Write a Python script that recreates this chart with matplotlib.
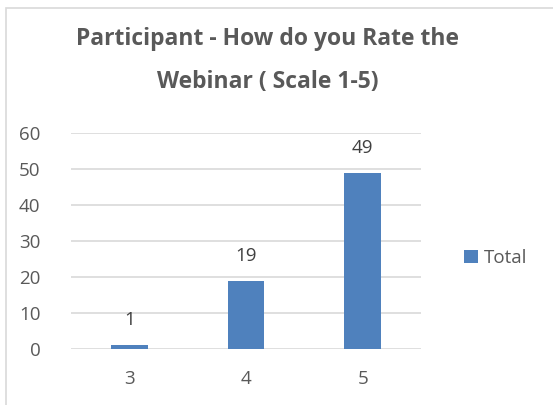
import matplotlib
matplotlib.use("Agg")
import matplotlib.pyplot as plt
from matplotlib.patches import Rectangle

categories = ["3", "4", "5"]
totals = [1, 19, 49]
y_ticks = [0, 10, 20, 30, 40, 50, 60]
title_lines = ["Participant - How do you Rate the", "Webinar ( Scale 1-5)"]
series_name = "Total"

W, H = 553, 405
BAR_COLOR = "#4F81BD"
TEXT_COLOR = "#595959"
GRID_COLOR = "#D9D9D9"
FS = 13.5

plt.rcParams["font.family"] = ["Open Sans", "DejaVu Sans"]

fig = plt.figure(figsize=(W / 100, H / 100), dpi=100)

# chart border (goes past the right and bottom edge in the reference)
fig.patches.append(Rectangle((6 / W, -0.1), 1.2, (H - 8) / H + 0.1,
                             transform=fig.transFigure, fill=False,
                             edgecolor=GRID_COLOR, lw=1.2))

# plot area in pixels: x 71..421, y 133 (60) .. 349 (0)
ax = fig.add_axes([71 / W, (H - 349) / H, 350 / W, 216 / H])
x = range(len(categories))
bars = ax.bar(x, totals, width=0.317, color=BAR_COLOR, zorder=3, label=series_name)

ax.set_xlim(-0.5, len(categories) - 0.5)
ax.set_ylim(0, 60)
ax.set_yticks(y_ticks)
ax.set_xticks(list(x))
ax.set_xticklabels(categories)
ax.yaxis.grid(True, color=GRID_COLOR, lw=1.2, zorder=0)
for s in ax.spines.values():
    s.set_visible(False)
ax.tick_params(length=0, labelsize=FS, colors=TEXT_COLOR)
ax.tick_params(axis="y", pad=22)
ax.tick_params(axis="x", pad=15)

for b, v in zip(bars, totals):
    ax.annotate(str(v), (b.get_x() + b.get_width() / 2, v), xytext=(0, 25),
                textcoords="offset pixels", ha="center", va="center",
                fontsize=FS, color="#404040")

# title, one text per line so the line gap matches
for i, line in enumerate(title_lines):
    fig.text(268 / W, 1 - (39 + 43 * i) / H, line, ha="center", va="center",
             fontsize=16.5, fontweight="bold", color=TEXT_COLOR)

fig.legend(handles=[bars], labels=[series_name], loc="center left",
           bbox_to_anchor=(447 / W, 1 - 258 / H), frameon=False,
           handlelength=0.75, handleheight=0.75, handletextpad=0.3,
           fontsize=FS, labelcolor=TEXT_COLOR)

fig.savefig("out.png", dpi=100)
